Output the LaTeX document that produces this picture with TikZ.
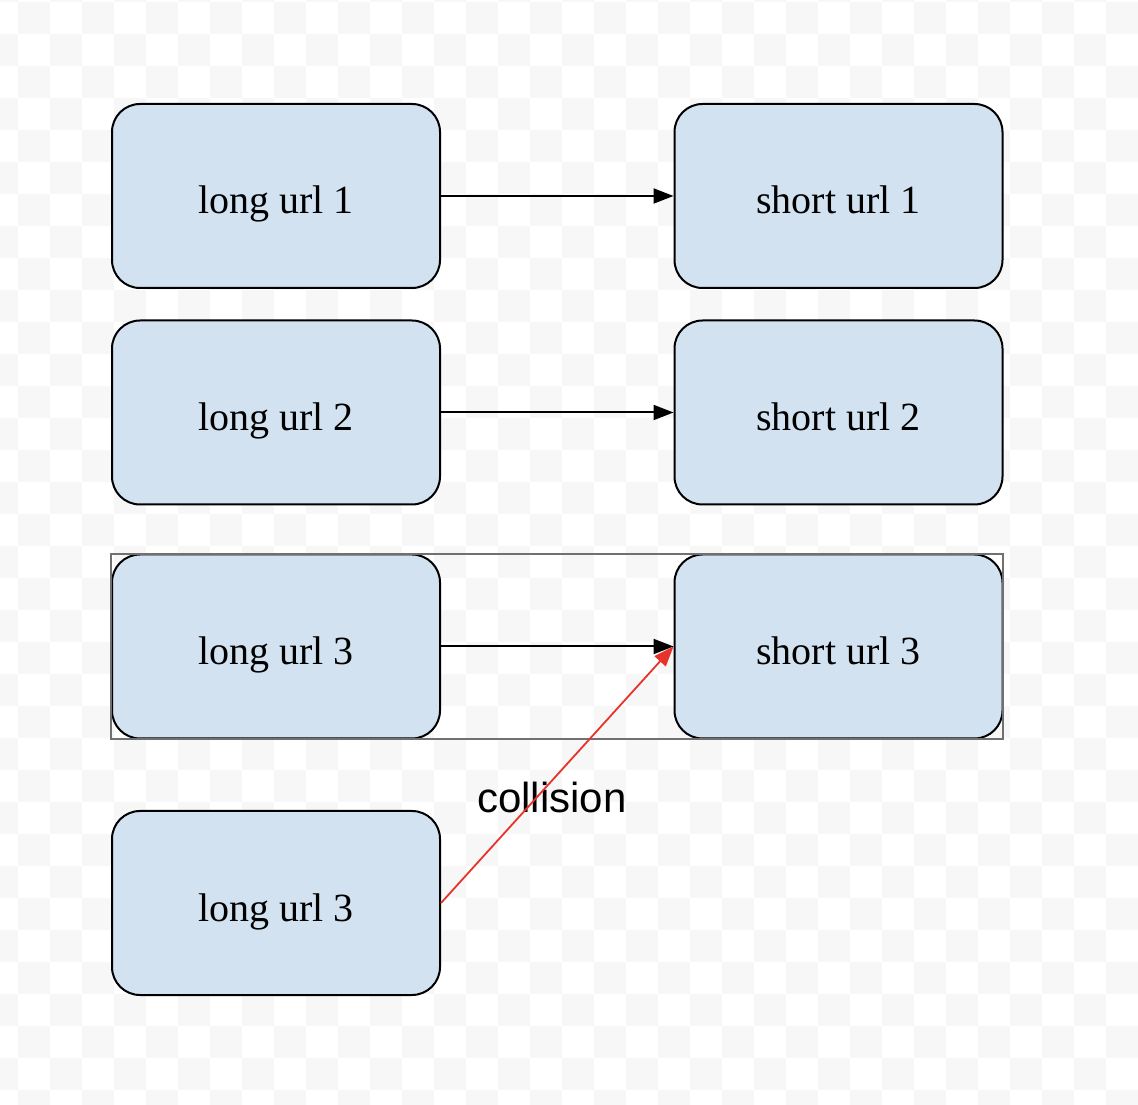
\documentclass[tikz,border=0pt]{standalone}
\usepackage{fontspec}
\setmainfont{Liberation Serif}
\newfontfamily\labelfont{Liberation Sans}
\usetikzlibrary{arrows.meta}
\definecolor{boxblue}{HTML}{D2E2F1}
\definecolor{checkgrey}{HTML}{F7F7F7}
\definecolor{groupgrey}{HTML}{707070}
\definecolor{collred}{HTML}{E8332A}
\tikzset{
  urlbox/.style={draw=black, line width=2pt, rounded corners=28pt, fill=boxblue,
    minimum width=328pt, minimum height=184pt, inner sep=0pt,
    text height=38pt, text depth=2pt,
    font=\fontsize{40}{46}\selectfont},
  linkarrow/.style={draw=black, line width=2pt, -{Triangle[length=20pt,width=15pt]}},
  collarrow/.style={draw=collred, line width=1.8pt, -{Triangle[length=20pt,width=15pt]}},
  groupbox/.style={draw=groupgrey, line width=1.6pt, minimum width=892pt, minimum height=185pt, inner sep=0pt},
}
\begin{document}
\begin{tikzpicture}[x=1pt,y=1pt]
\useasboundingbox (0,0) rectangle (1138,1104);
% checkerboard background
\begin{scope}
\clip (0,0) rectangle (1138,1104);
\fill[white] (0,0) rectangle (1138,1104);
\foreach \m in {-1,...,34} {
  \pgfmathtruncatemacro\p{mod(\m+2,2)}
  \foreach \kk in {0,2,...,38} {
    \pgfmathtruncatemacro\k{\kk-2+\p}
    \fill[checkgrey] ({18+32*\k},{1102-32*\m}) rectangle ({50+32*\k},{1070-32*\m});
  }
}
\end{scope}
% nodes
\node[urlbox] (l1) at (276,908) {long url 1};
\node[urlbox] (s1) at (838.5,908) {short url 1};
\node[urlbox] (l2) at (276,691.5) {long url 2};
\node[urlbox] (s2) at (838.5,691.5) {short url 2};
\node[urlbox] (l3) at (276,457.5) {long url 3};
\node[urlbox] (s3) at (838.5,457.5) {short url 3};
\node[urlbox] (l4) at (276,201) {long url 3};
\node[groupbox] (grp) at (557,457.5) {};
\node[font=\labelfont\fontsize{42}{48}\selectfont, inner sep=0pt, anchor=base] (coll) at (552,291) {collision};
% connectors
\draw[linkarrow] (l1.east) -- (s1.west);
\draw[linkarrow] (l2.east) -- (s2.west);
\draw[linkarrow] (l3.east) -- (s3.west);
\draw[collarrow] (l4.east) -- (s3.west);
\end{tikzpicture}
\end{document}
